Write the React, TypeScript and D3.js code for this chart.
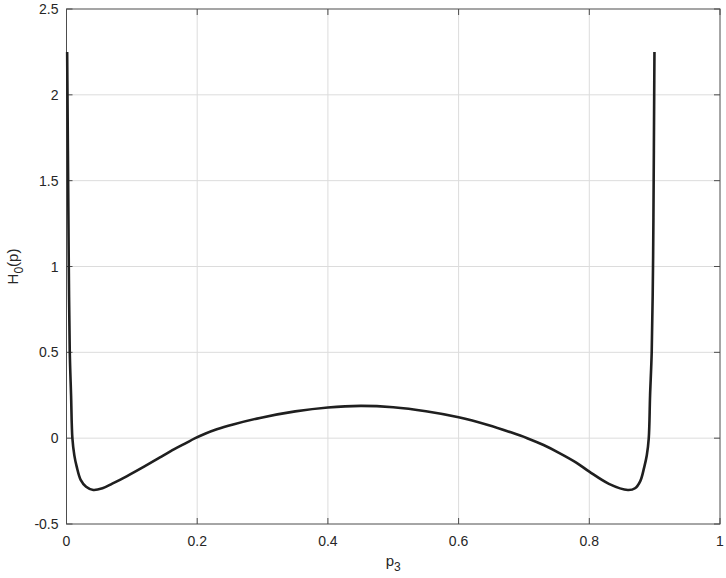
import React from "react";
import * as d3 from "d3";

const pValues = [
  0.0010, 0.0015, 0.0025, 0.0035, 0.0050, 0.0070, 0.0090, 0.0120, 0.0156, 0.0217,
  0.030, 0.041, 0.055, 0.070, 0.092, 0.120, 0.143, 0.165, 0.182, 0.197,
  0.212, 0.230, 0.255, 0.296, 0.350, 0.400, 0.450, 0.500, 0.550, 0.600,
  0.645, 0.680, 0.705, 0.730, 0.755, 0.780, 0.800, 0.830, 0.859, 0.870,
  0.878, 0.884, 0.888, 0.891, 0.893, 0.8955, 0.8975, 0.8985, 0.8993, 0.8997,
];
const hValues = [
  2.25, 2.0, 1.5, 1.0, 0.5, 0.25, 0.0, -0.10, -0.166, -0.243,
  -0.283, -0.302, -0.292, -0.265, -0.222, -0.163, -0.112, -0.064, -0.030, 0.0,
  0.026, 0.052, 0.080, 0.118, 0.156, 0.179, 0.188, 0.180, 0.157, 0.122,
  0.077, 0.034, 0.0, -0.040, -0.088, -0.142, -0.195, -0.266, -0.302, -0.292,
  -0.250, -0.170, -0.10, 0.0, 0.25, 0.5, 1.0, 1.5, 2.0, 2.25,
];
const xTicks = [0, 0.2, 0.4, 0.6, 0.8, 1];
const xTickLabels = ["0", "0.2", "0.4", "0.6", "0.8", "1"];
const yTicks = [-0.5, 0, 0.5, 1, 1.5, 2, 2.5];
const yTickLabels = ["-0.5", "0", "0.5", "1", "1.5", "2", "2.5"];

const W = 726;
const H = 578;
const left = 66.5;
const right = 720;
const top = 9;
const bottom = 524;

export default function App() {
  const x = d3.scaleLinear().domain([0, 1]).range([left, right]);
  const y = d3.scaleLinear().domain([-0.5, 2.5]).range([bottom, top]);
  const pts = pValues.map((p, i) => [p, hValues[i]] as [number, number]);
  const line = d3
    .line<[number, number]>()
    .x((d) => x(d[0]))
    .y((d) => y(d[1]))
    .curve(d3.curveCatmullRom.alpha(0.5));
  const font = "'Liberation Sans', Arial, Helvetica, sans-serif";
  const tickLen = 6;
  const axisColor = "#4d4d4d";
  return (
    <div style={{ position: "absolute", left: 0, top: 0 }}>
      <svg width={W} height={H} style={{ display: "block", background: "#fff" }}>
        <rect x={0} y={0} width={W} height={H} fill="#fff" />
        {xTicks.slice(1, -1).map((t) => (
          <line key={"gx" + t} x1={x(t)} x2={x(t)} y1={top} y2={bottom} stroke="#dcdcdc" strokeWidth={1} />
        ))}
        {yTicks.slice(1, -1).map((t) => (
          <line key={"gy" + t} x1={left} x2={right} y1={y(t)} y2={y(t)} stroke="#dcdcdc" strokeWidth={1} />
        ))}
        <rect x={left} y={top} width={right - left} height={bottom - top} fill="none" stroke={axisColor} strokeWidth={1} />
        {xTicks.map((t) => (
          <g key={"tx" + t}>
            <line x1={x(t)} x2={x(t)} y1={bottom} y2={bottom - tickLen} stroke={axisColor} />
            <line x1={x(t)} x2={x(t)} y1={top} y2={top + tickLen} stroke={axisColor} />
          </g>
        ))}
        {yTicks.map((t) => (
          <g key={"ty" + t}>
            <line x1={left} x2={left + tickLen} y1={y(t)} y2={y(t)} stroke={axisColor} />
            <line x1={right} x2={right - tickLen} y1={y(t)} y2={y(t)} stroke={axisColor} />
          </g>
        ))}
        {xTicks.map((t, i) => (
          <text key={"lx" + t} x={x(t)} y={bottom + 22} textAnchor="middle" fontFamily={font} fontSize={14} fill="#262626">
            {xTickLabels[i]}
          </text>
        ))}
        {yTicks.map((t, i) => (
          <text key={"ly" + t} x={left - 8} y={y(t) + 5} textAnchor="end" fontFamily={font} fontSize={14} fill="#262626">
            {yTickLabels[i]}
          </text>
        ))}
        <path d={line(pts) || ""} fill="none" stroke="#1f1f1f" strokeWidth={2.6} strokeLinejoin="round" />
        <text x={(left + right) / 2} y={566} textAnchor="middle" fontFamily={font} fontSize={15} fill="#262626">
          p
          <tspan fontSize={12} dy={5}>3</tspan>
        </text>
        <text
          transform={`translate(18, ${(top + bottom) / 2}) rotate(-90)`}
          textAnchor="middle"
          fontFamily={font}
          fontSize={15}
          fill="#262626"
        >
          H
          <tspan fontSize={12} dy={5}>0</tspan>
          <tspan dy={-5}>(p)</tspan>
        </text>
      </svg>
    </div>
  );
}
